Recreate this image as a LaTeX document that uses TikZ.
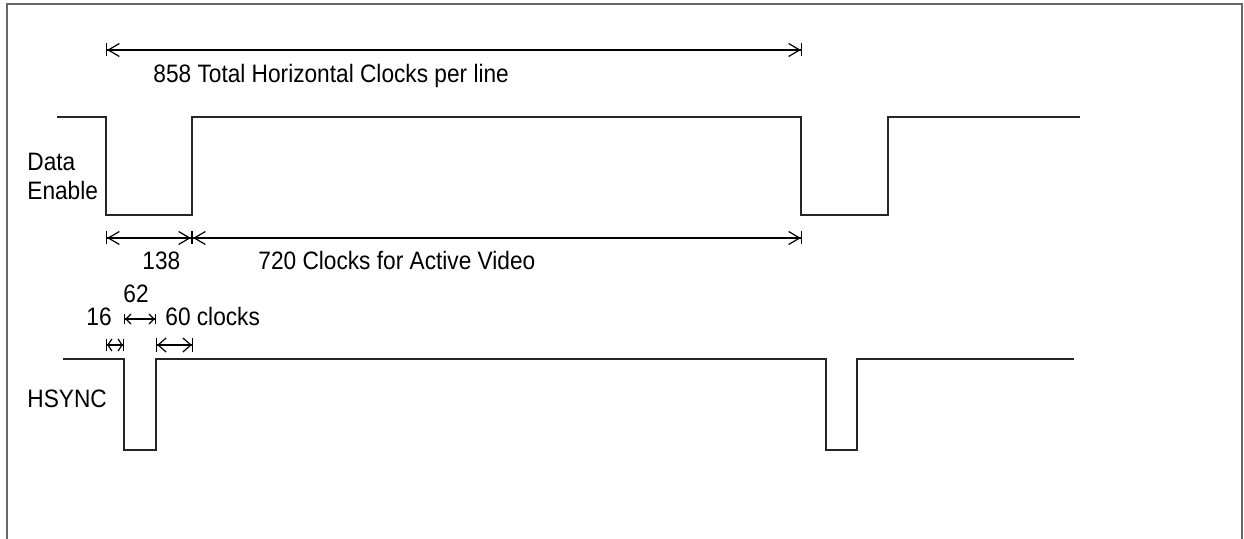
\documentclass[tikz,border=0pt]{standalone}
\usepackage{fontspec}
\setmainfont{Liberation Sans}[FakeStretch=0.9]
\usetikzlibrary{arrows.meta}
\tikzset{
  sig/.style={line width=0.65pt, draw=black!85},
  dim/.style 2 args={line width=0.6pt,
    {Bar[width=#2]Straight Barb[length=#1,width=#2,sep=0pt]}-{Straight Barb[length=#1,width=#2,sep=0pt]Bar[width=#2]}},
  lbl/.style={anchor=base west, inner sep=0pt, font=\fontsize{12.6}{14}\selectfont},
}
\begin{document}
\begin{tikzpicture}[x=0.5pt,y=-0.5pt]
\useasboundingbox (0,0) rectangle (1244,539);
% frame, open at the bottom
\draw[black!60, line width=1pt] (7,539) -- (7,4) -- (1242,4) -- (1242,539);

% Data Enable
\coordinate (deA) at (106,117);
\coordinate (deB) at (192,117);
\coordinate (deC) at (801,117);
\coordinate (deD) at (888,117);
\draw[sig] (57,117) -- (deA) -- ++(0,98) -| (deB) -- (deC) -- ++(0,98) -| (deD) -- (1080,117);
\node[lbl] (data) at (27,171) {Data};
\node[lbl] (enable) at (27,200) {Enable};

% HSYNC
\coordinate (hsA) at (124,359);
\coordinate (hsB) at (156,359);
\coordinate (hsC) at (826,359);
\coordinate (hsD) at (857,359);
\draw[sig] (63,359) -- (hsA) -- ++(0,91) -| (hsB) -- (hsC) -- ++(0,91) -| (hsD) -- (1074,359);
\node[lbl] (hsync) at (27,408) {HSYNC};

% dimensions
\coordinate (totL) at (106,50);
\coordinate (totR) at (802,50);
\draw[dim={5.5pt}{6.5pt}] (totL) -- (totR);
\node[lbl] (total) at (153,83) {858 Total Horizontal Clocks per line};

\coordinate (blkL) at (106,238);
\coordinate (blkM) at (192,238);
\coordinate (blkR) at (802,238);
\draw[dim={5.5pt}{6.5pt}] (blkL) -- (blkM);
\draw[dim={5.5pt}{6.5pt}] (blkM) -- (blkR);
\node[lbl] (blank) at (142,270) {138};
\node[lbl] (active) at (258,270) {720 Clocks for Active Video};

\coordinate (fpL) at (106,345);
\coordinate (fpR) at (124,345);
\coordinate (swL) at (124,319);
\coordinate (swR) at (156,319);
\coordinate (bpL) at (156,345);
\coordinate (bpR) at (193,345);
\draw[dim={2pt}{6pt}] (fpL) -- (fpR);
\draw[dim={2.5pt}{5pt}] (swL) -- (swR);
\draw[dim={4pt}{7pt}] (bpL) -- (bpR);
\node[lbl] (front) at (86,326) {16};
\node[lbl] (width) at (123,303) {62};
\node[lbl] (back) at (165,326) {60 clocks};
\end{tikzpicture}
\end{document}
